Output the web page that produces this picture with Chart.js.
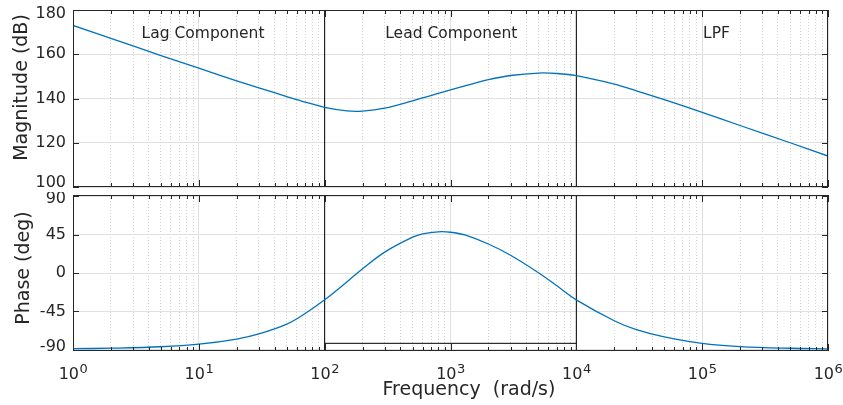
<!DOCTYPE html>
<html>
<head>
<meta charset="utf-8">
<script src="https://cdn.jsdelivr.net/npm/chart.js@4.4.1/dist/chart.umd.min.js"></script>
<style>
  html, body { margin: 0; padding: 0; background: #fff; }
  #wrap { position: relative; width: 843px; height: 405px; }
  canvas { position: absolute; left: 0; }
  #magChart { top: 0; }
  #phaseChart { top: 192px; }
</style>
</head>
<body>
<div id="wrap">
  <canvas id="magChart" width="843" height="192"></canvas>
  <canvas id="phaseChart" width="843" height="213"></canvas>
</div>
<script>
// values
const freq = [1, 2, 5, 10, 20, 30, 50, 70, 100, 150, 200, 300, 500, 600, 800, 1000, 1300,
  2000, 3000, 5000, 7000, 10000, 20000, 30000, 50000, 1e5, 2e5, 5e5, 1e6];
const magnitude = [173.0, 167.2, 159.4, 153.7, 148.0, 144.8, 140.9, 138.4, 136.0, 134.4, 134.3, 135.6, 138.9, 140.3, 142.3, 143.9, 145.7,
  148.5, 150.4, 151.5, 151.3, 150.3, 146.5, 143.5, 139.5, 133.7, 127.8, 120.0, 114.0];
const phase = [-88.8, -88.2, -86.5, -83.5, -77.5, -71.5, -60, -47.5, -31.5, -10.5, 5, 24.5, 42, 45.9, 48.3, 47.8, 44.6,
  34, 20.8, 0.3, -15, -31.5, -56, -66.5, -75, -82.6, -86.3, -88.3, -89];

const magTicks = [100, 120, 140, 160, 180];
const phaseTicks = [-90, -45, 0, 45, 90];
const boundaryFreqs = [100, 10000];
const leadFloor = -82.5;

const sectionNames = ["Lag Component", "Lead Component", "LPF"];
const sectionFreqs = [10.8, 1015, 1.3e5];
const sectionLevel = 167.5;

const FONT = '"DejaVu Sans", Verdana, sans-serif';
const INK = "#262626";
const BLUE = "#0072BD";
const MAJOR = "#e0e0e0";
const MINOR = "#d4d4d4";

function isDecade(v) {
  const l = Math.log10(v);
  return Math.abs(l - Math.round(l)) < 1e-9;
}

function freqTicks() {
  const t = [];
  for (let e = 0; e < 6; e++) {
    for (let m = 1; m < 10; m++) t.push({ value: m * Math.pow(10, e) });
  }
  t.push({ value: 1e6 });
  return t;
}

// MATLAB-like box, inward ticks and all the axis text
const axesFrame = {
  id: "axesFrame",
  afterDraw(chart, args, opts) {
    const { ctx, chartArea: a, scales } = chart;
    const x = scales.x, y = scales.y;
    ctx.save();
    ctx.strokeStyle = INK;
    ctx.lineWidth = 1;
    ctx.beginPath();
    x.ticks.forEach(t => {
      const px = Math.round(x.getPixelForValue(t.value)) + 0.5;
      const len = isDecade(t.value) ? 7 : 4;
      ctx.moveTo(px, a.top); ctx.lineTo(px, a.top + len);
      ctx.moveTo(px, a.bottom); ctx.lineTo(px, a.bottom - len);
    });
    y.ticks.forEach(t => {
      const py = Math.round(y.getPixelForValue(t.value)) + 0.5;
      ctx.moveTo(a.left, py); ctx.lineTo(a.left + 6, py);
      ctx.moveTo(a.right, py); ctx.lineTo(a.right - 6, py);
    });
    ctx.stroke();
    ctx.strokeRect(Math.round(a.left) + 0.5, Math.round(a.top) + 0.5,
      Math.round(a.width) - 1, Math.round(a.height) - 1);

    ctx.fillStyle = INK;
    ctx.font = "16px " + FONT;
    ctx.textAlign = "right";
    ctx.textBaseline = "middle";
    y.ticks.forEach(t => {
      const py = Math.min(Math.max(y.getPixelForValue(t.value), a.top + 4), a.bottom - 4);
      ctx.fillText(String(t.value), a.left - 7, py);
    });

    ctx.save();
    ctx.font = "19px " + FONT;
    ctx.textAlign = "center";
    ctx.translate(opts.titleX, a.top + opts.titleY);
    ctx.rotate(-Math.PI / 2);
    ctx.fillText(opts.title, 0, 0);
    ctx.restore();

    if (opts.sections) {
      ctx.font = "15.5px " + FONT;
      ctx.textAlign = "center";
      ctx.textBaseline = "alphabetic";
      sectionNames.forEach((name, i) => {
        ctx.fillText(name, x.getPixelForValue(sectionFreqs[i]), y.getPixelForValue(sectionLevel));
      });
    }

    if (opts.xLabels) {
      ctx.textAlign = "left";
      ctx.textBaseline = "alphabetic";
      x.ticks.filter(t => isDecade(t.value)).forEach(t => {
        const px = x.getPixelForValue(t.value);
        const exp = String(Math.round(Math.log10(t.value)));
        ctx.font = "16px " + FONT;
        const w1 = ctx.measureText("10").width;
        ctx.font = "13px " + FONT;
        const w2 = ctx.measureText(exp).width;
        const x0 = px - (w1 + w2) / 2;
        ctx.font = "16px " + FONT;
        ctx.fillText("10", x0, a.bottom + 28);
        ctx.font = "13px " + FONT;
        ctx.fillText(exp, x0 + w1 + 0.5, a.bottom + 22);
      });
      ctx.font = "19px " + FONT;
      ctx.textAlign = "center";
      ctx.fillText("Frequency  (rad/s)", a.left + a.width * 0.5245, a.bottom + 44);
    }
    ctx.restore();
  }
};

function xScale(height) {
  return {
    type: "logarithmic",
    min: 1,
    max: 1e6,
    afterBuildTicks: s => { s.ticks = freqTicks(); },
    afterFit: s => { s.height = height; },
    ticks: { display: false, autoSkip: false },
    grid: {
      drawTicks: false,
      lineWidth: 1,
      color: c => (c.tick && !isDecade(c.tick.value) ? MINOR : MAJOR)
    },
    border: {
      display: false,
      dash: c => (c.tick && !isDecade(c.tick.value) ? [1, 2] : [])
    }
  };
}

function yScale(min, max, tickValues) {
  return {
    min: min,
    max: max,
    afterBuildTicks: s => { s.ticks = tickValues.map(v => ({ value: v })); },
    afterFit: s => { s.width = 73; },
    ticks: { display: false },
    grid: { drawTicks: false, color: MAJOR, lineWidth: 1 },
    border: { display: false }
  };
}

function curve(values) {
  return {
    data: freq.map((f, i) => ({ x: f, y: values[i] })),
    borderColor: BLUE,
    borderWidth: 1.3,
    pointRadius: 0,
    tension: 0.35
  };
}

function blackLine(points) {
  return { data: points, borderColor: "#000", borderWidth: 1, pointRadius: 0 };
}

const common = {
  responsive: false,
  animation: false,
  devicePixelRatio: 1,
  events: []
};

new Chart(document.getElementById("magChart"), {
  type: "line",
  data: {
    datasets: [
      curve(magnitude),
      ...boundaryFreqs.map(f => blackLine([{ x: f, y: 90 }, { x: f, y: 190 }]))
    ]
  },
  options: {
    ...common,
    layout: { padding: { top: 10, right: 15, left: 0, bottom: 0 } },
    scales: { x: xScale(5), y: yScale(100, 180, magTicks) },
    plugins: {
      legend: { display: false },
      tooltip: { enabled: false },
      axesFrame: { title: "Magnitude (dB)", titleX: 22, titleY: 77.5, sections: true }
    }
  },
  plugins: [axesFrame]
});

new Chart(document.getElementById("phaseChart"), {
  type: "line",
  data: {
    datasets: [
      curve(phase),
      ...boundaryFreqs.map(f => blackLine([{ x: f, y: -100 }, { x: f, y: 100 }])),
      blackLine(boundaryFreqs.map(f => ({ x: f, y: leadFloor })))
    ]
  },
  options: {
    ...common,
    layout: { padding: { top: 3, right: 15, left: 0, bottom: 0 } },
    scales: { x: xScale(54), y: yScale(-91.5, 91.5, phaseTicks) },
    plugins: {
      legend: { display: false },
      tooltip: { enabled: false },
      axesFrame: { title: "Phase (deg)", titleX: 24, titleY: 73, xLabels: true }
    }
  },
  plugins: [axesFrame]
});
</script>
</body>
</html>
